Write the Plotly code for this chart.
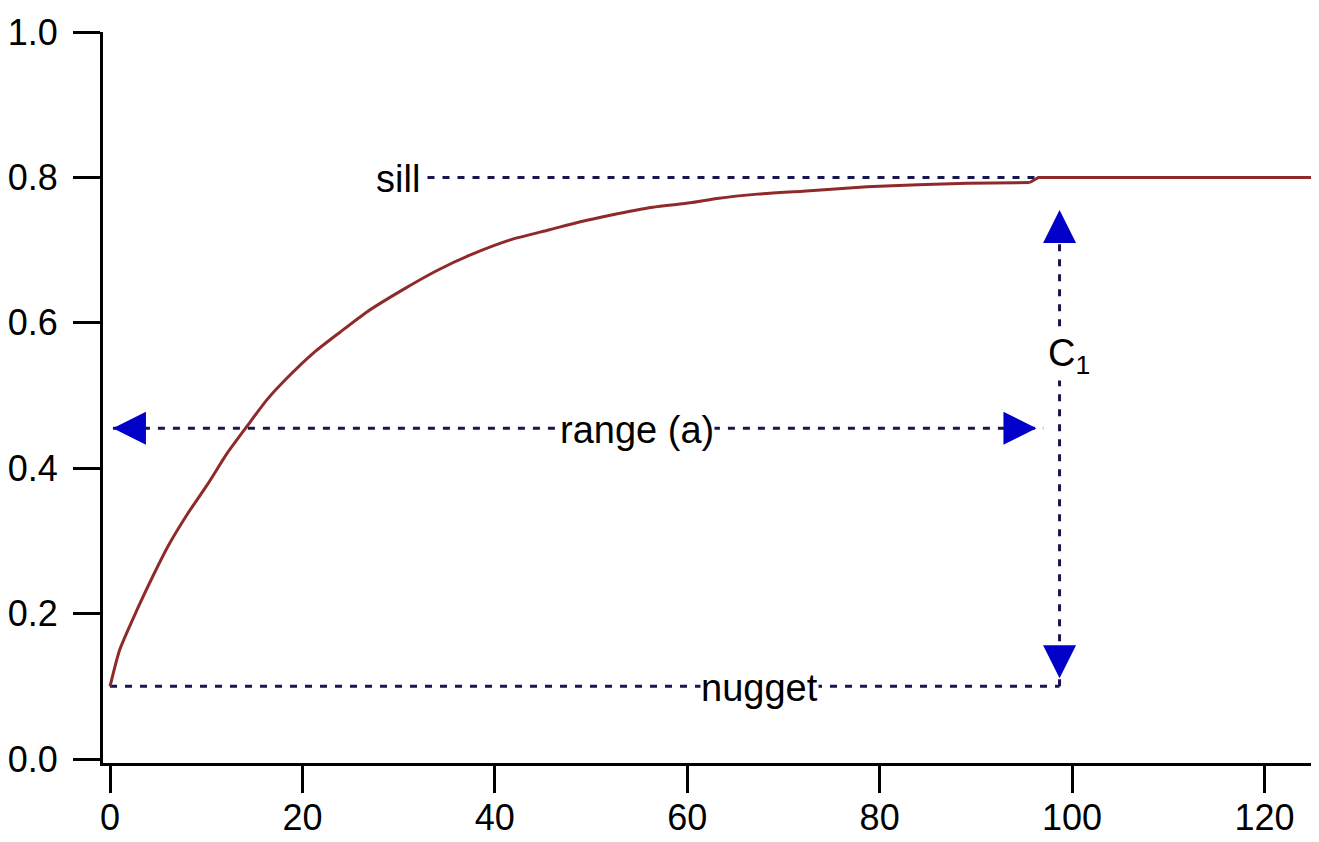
import plotly.graph_objects as go

# ---- data ----
lag = [0, 1.0, 2.8, 4.4, 6.0, 8.1, 10.1, 12.2, 14.2, 16.3, 18.4, 21.1, 23.9, 26.7,
       30.5, 34.0, 37.4, 41.6, 45.7, 48.9, 52.0, 56.4, 60.3, 63.1, 67.3, 72.0,
       78.7, 84.0, 89.1, 95.6, 96.5, 126.0]
gamma = [0.100, 0.150, 0.205, 0.250, 0.292, 0.338, 0.377, 0.421, 0.457, 0.494,
         0.524, 0.558, 0.587, 0.615, 0.646, 0.672, 0.693, 0.714, 0.728, 0.739,
         0.748, 0.759, 0.765, 0.771, 0.777, 0.781, 0.787, 0.790, 0.792, 0.793,
         0.800, 0.800]
n_curved = 30  # points before the curve joins the sill

nugget = 0.1
sill = 0.8
range_y = 0.455
range_start = 0.3
range_end = 96.3
range_line_end = 97.0
c1_x = 98.7
c1_top = 0.755
c1_bottom = 0.111
sill_label_x = 33.0
x_max = 126.0

x_ticks = [0, 20, 40, 60, 80, 100, 120]
y_ticks = [0.0, 0.2, 0.4, 0.6, 0.8, 1.0]

# ---- styles ----
FONT = "Liberation Sans, Arial, sans-serif"
NAVY = "#161650"
BLUE = "#0000c8"
RED = "#8e2a2a"
DASH = "7px,8px"

fig = go.Figure()

# dashed guide lines
guide = dict(color=NAVY, width=3, dash=DASH)
fig.add_trace(go.Scatter(x=[sill_label_x, x_max], y=[sill, sill], mode="lines",
                         line=guide, hoverinfo="skip", showlegend=False))
fig.add_trace(go.Scatter(x=[0, c1_x], y=[nugget, nugget], mode="lines",
                         line=guide, hoverinfo="skip", showlegend=False))
fig.add_trace(go.Scatter(x=[range_start, range_line_end], y=[range_y, range_y], mode="lines",
                         line=guide, hoverinfo="skip", showlegend=False))
fig.add_trace(go.Scatter(x=[c1_x, c1_x], y=[nugget, c1_top], mode="lines",
                         line=guide, hoverinfo="skip", showlegend=False))

# model curve (smooth part, then the flat sill part)
fig.add_trace(go.Scatter(x=lag[:n_curved], y=gamma[:n_curved], mode="lines",
                         line=dict(color=RED, width=3, shape="spline", smoothing=0.6),
                         hoverinfo="skip", showlegend=False))
fig.add_trace(go.Scatter(x=lag[n_curved - 1:], y=gamma[n_curved - 1:], mode="lines",
                         line=dict(color=RED, width=3),
                         hoverinfo="skip", showlegend=False))

# arrow heads
arrows_x = [range_start, range_end, c1_x, c1_x]
arrows_y = [range_y, range_y, c1_top, c1_bottom]
arrows_sym = ["arrow-left", "arrow-right", "arrow-up", "arrow-down"]
fig.add_trace(go.Scatter(x=arrows_x, y=arrows_y, mode="markers",
                         marker=dict(symbol=arrows_sym, size=33, color=BLUE,
                                     line=dict(width=0)),
                         hoverinfo="skip", showlegend=False))

# labels
lab_font = dict(family=FONT, size=38, color="black")
fig.add_annotation(x=sill_label_x, y=sill, text="sill", showarrow=False,
                   xanchor="right", yanchor="middle", xshift=-6, yshift=-2,
                   font=lab_font, bgcolor="white", borderpad=0)
fig.add_annotation(x=(range_start + range_end) / 2 + 6.5, y=range_y, text="range (a)",
                   showarrow=False, xanchor="center", yanchor="middle", yshift=-2,
                   font=lab_font, bgcolor="white", borderpad=0)
fig.add_annotation(x=67.5, y=nugget, text="nugget", showarrow=False,
                   xanchor="center", yanchor="middle", yshift=-2,
                   font=lab_font, bgcolor="white", borderpad=0)
fig.add_annotation(x=c1_x, y=0.554, text="C<sub>1</sub>", showarrow=False,
                   xanchor="left", yanchor="middle", xshift=-13,
                   font=lab_font, bgcolor="white", borderpad=0)

axis_common = dict(showgrid=False, zeroline=False, showline=True, linecolor="black",
                   linewidth=3, ticks="outside", ticklen=27, tickwidth=3, automargin=False,
                   tickcolor="black")

fig.update_xaxes(range=[-0.73, 125.67], tickmode="array", tickvals=x_ticks,
                 ticktext=[str(v) for v in x_ticks], ticklabelstandoff=-6,
                 tickfont=dict(family=FONT, size=36, color="black"), **axis_common)
fig.update_yaxes(range=[-0.0055, 1.0], tickmode="array", tickvals=y_ticks,
                 ticktext=[f"{v:.1f}" for v in y_ticks], ticklabelstandoff=8,
                 tickfont=dict(family=FONT, size=36, color="black"), **axis_common)

# the page body adds an 8px margin; compensate so the plot area lands where the reference has it
fig.update_layout(width=1311, height=834, paper_bgcolor="white", plot_bgcolor="white",
                  margin=dict(l=95, r=0, t=24, b=79), showlegend=False)

fig.write_html("out.html")
